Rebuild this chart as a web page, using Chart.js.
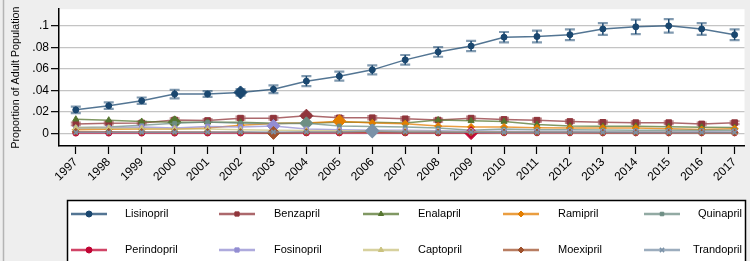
<!DOCTYPE html>
<html>
<head>
<meta charset="utf-8">
<script src="https://cdn.jsdelivr.net/npm/chart.js@4.4.1/dist/chart.umd.min.js"></script>
<style>
  html, body { margin: 0; padding: 0; background: #eeeeee; }
  #wrap { position: relative; width: 750px; height: 261px; }
</style>
</head>
<body>
<div id="wrap"><canvas id="c" width="750" height="261"></canvas></div>
<script>
const years = [1997,1998,1999,2000,2001,2002,2003,2004,2005,2006,2007,2008,2009,2010,2011,2012,2013,2014,2015,2016,2017];
const yTicks = [0, 0.02, 0.04, 0.06, 0.08, 0.1];
const yTickLabels = ['0', '.02', '.04', '.06', '.08', '.1'];

const lisinopril    = [0.0219,0.0258,0.0304,0.0366,0.0366,0.0381,0.0410,0.0486,0.0532,0.0591,0.0684,0.0758,0.0813,0.0895,0.0901,0.0918,0.0971,0.0991,0.1000,0.0971,0.0918];
const lisinoprilErr = [0.0030,0.0030,0.0030,0.0040,0.0027,0.0030,0.0036,0.0047,0.0042,0.0042,0.0045,0.0045,0.0047,0.0048,0.0055,0.0050,0.0054,0.0067,0.0063,0.0054,0.0050];
const benzapril     = [0.0088,0.0095,0.0098,0.0125,0.0120,0.0142,0.0142,0.0165,0.0145,0.0146,0.0136,0.0124,0.0142,0.0130,0.0123,0.0111,0.0103,0.0100,0.0100,0.0088,0.0100];
const benzaprilErr  = [0.0012,0.0012,0.0012,0.0014,0.0014,0.0015,0.0015,0.0016,0.0015,0.0015,0.0015,0.0014,0.0015,0.0014,0.0014,0.0013,0.0013,0.0013,0.0013,0.0012,0.0013];
const enalapril     = [0.0132,0.0123,0.0111,0.0103,0.0103,0.0103,0.0095,0.0095,0.0103,0.0103,0.0097,0.0125,0.0117,0.0110,0.0084,0.0068,0.0066,0.0066,0.0063,0.0058,0.0055];
const ramipril      = [0.0035,0.0038,0.0040,0.0042,0.0050,0.0075,0.0092,0.0096,0.0114,0.0098,0.0090,0.0068,0.0060,0.0060,0.0052,0.0050,0.0050,0.0050,0.0044,0.0036,0.0044];
const quinapril     = [0.0055,0.0060,0.0075,0.0095,0.0105,0.0095,0.0090,0.0094,0.0070,0.0065,0.0060,0.0050,0.0030,0.0040,0.0035,0.0035,0.0032,0.0030,0.0030,0.0030,0.0030];
const perindopril   = [0.0003,0.0003,0.0003,0.0003,0.0004,0.0004,0.0004,0.0005,0.0005,0.0005,0.0005,0.0005,0.0003,0.0006,0.0006,0.0006,0.0006,0.0006,0.0006,0.0006,0.0006];
const fosinopril    = [0.0045,0.0050,0.0060,0.0050,0.0065,0.0060,0.0070,0.0040,0.0035,0.0030,0.0030,0.0025,0.0020,0.0020,0.0018,0.0017,0.0016,0.0015,0.0015,0.0015,0.0014];
const captopril     = [0.0050,0.0048,0.0046,0.0040,0.0040,0.0035,0.0030,0.0026,0.0024,0.0022,0.0020,0.0018,0.0016,0.0015,0.0013,0.0012,0.0011,0.0010,0.0010,0.0009,0.0009];
const moexipril     = [0.0015,0.0015,0.0014,0.0013,0.0013,0.0012,0.0005,0.0011,0.0010,0.0010,0.0009,0.0009,0.0008,0.0008,0.0008,0.0008,0.0007,0.0007,0.0007,0.0007,0.0007];
const trandopril    = [0.0010,0.0010,0.0011,0.0012,0.0012,0.0013,0.0013,0.0014,0.0014,0.0022,0.0014,0.0013,0.0012,0.0011,0.0010,0.0010,0.0010,0.0009,0.0009,0.0009,0.0009];

// name, values, errors, colour, marker, marker radius, highlighted year
const series = [
  ['Lisinopril',  lisinopril,  lisinoprilErr, '#1a476f', 'circle',   3,   2002],
  ['Benzapril',   benzapril,   benzaprilErr,  '#90353b', 'rect',     4,   2004],
  ['Enalapril',   enalapril,   null,          '#55752f', 'triangle', 3.5, 2000],
  ['Ramipril',    ramipril,    null,          '#e37e00', 'rectRot',  3.5, 2005],
  ['Quinapril',   quinapril,   null,          '#6e8e84', 'rect',     2.5, 2004],
  ['Perindopril', perindopril, null,          '#c10534', 'circle',   3,   2009],
  ['Fosinopril',  fosinopril,  null,          '#938dd2', 'rect',     3,   2003],
  ['Captopril',   captopril,   null,          '#cac27e', 'triangle', 3.5, null],
  ['Moexipril',   moexipril,   null,          '#a0522d', 'rectRot',  3.5, 2003],
  ['Trandopril',  trandopril,  null,          '#7b92a8', 'crossRot', 3,   2006]
];

function alpha(hex, a) {
  const n = parseInt(hex.slice(1), 16);
  return `rgba(${n >> 16},${(n >> 8) & 255},${n & 255},${a})`;
}

const datasets = series.map(([name, vals, err, col, mk, r, hl]) => ({
  label: name,
  data: years.map((y, i) => ({ x: y, y: vals[i] })),
  errors: err,
  borderColor: alpha(col, 0.75),
  backgroundColor: col,
  borderWidth: 1.5,
  pointBorderColor: col,
  pointBackgroundColor: col,
  pointBorderWidth: mk === 'crossRot' ? 1.5 : 1,
  pointStyle: ctx => (ctx.raw && ctx.raw.x === hl) ? 'rectRot' : mk,
  pointRadius: ctx => (ctx.raw && ctx.raw.x === hl) ? 6.5 : r,
  tension: 0,
  fill: false,
  order: -series.findIndex(s => s[0] === name)
}));

const plotBg = {
  id: 'plotBg',
  beforeDraw(chart) {
    const { ctx, chartArea: a } = chart;
    ctx.save();
    ctx.fillStyle = '#eeeeee';
    ctx.fillRect(0, 0, chart.width, chart.height);
    ctx.fillStyle = '#ffffff';
    ctx.fillRect(a.left, a.top, a.right - a.left, a.bottom - a.top);
    ctx.strokeStyle = '#b4b4b4';
    ctx.lineWidth = 1.5;
    ctx.beginPath(); ctx.moveTo(3.5, 0); ctx.lineTo(3.5, chart.height); ctx.stroke();
    ctx.restore();
  }
};

const errorBars = {
  id: 'errorBars',
  beforeDatasetsDraw(chart) {
    const { ctx, scales: { x, y } } = chart;
    ctx.save();
    chart.data.datasets.forEach(ds => {
      if (!ds.errors) return;
      ds.data.forEach((p, i) => {
        const px = x.getPixelForValue(p.x);
        const lo = y.getPixelForValue(p.y - ds.errors[i]);
        const hi = y.getPixelForValue(p.y + ds.errors[i]);
        ctx.strokeStyle = ds.pointBorderColor;
        ctx.lineWidth = 1.5;
        ctx.beginPath(); ctx.moveTo(px, lo); ctx.lineTo(px, hi); ctx.stroke();
        ctx.strokeStyle = alpha(ds.pointBorderColor, 0.55);
        ctx.lineWidth = 2.2;
        ctx.beginPath();
        ctx.moveTo(px - 5, lo); ctx.lineTo(px + 5, lo);
        ctx.moveTo(px - 5, hi); ctx.lineTo(px + 5, hi);
        ctx.stroke();
      });
    });
    ctx.restore();
  }
};

// Stata-style legend box below the axis
const legendBox = {
  id: 'legendBox',
  afterDraw(chart) {
    const ctx = chart.ctx;
    const lineX = [71, 219, 363, 503, 644];
    const textX = [125, 274, 418, 558, 742];
    const rowY = [214, 250];
    ctx.save();
    ctx.fillStyle = '#ffffff';
    ctx.fillRect(67, 200, 678, 70);
    ctx.strokeStyle = '#000000';
    ctx.lineWidth = 1.5;
    ctx.strokeRect(67.5, 200.5, 678, 70);
    ctx.font = '11px "Liberation Sans", Arial, sans-serif';
    ctx.textBaseline = 'middle';
    chart.data.datasets.forEach((ds, i) => {
      const col = i % 5, row = Math.floor(i / 5);
      const y = rowY[row];
      const x0 = lineX[col], x1 = x0 + 36;
      ctx.strokeStyle = ds.borderColor;
      ctx.lineWidth = 2.5;
      ctx.beginPath(); ctx.moveTo(x0, y); ctx.lineTo(x1, y); ctx.stroke();
      const mk = series[i][4];
      ctx.fillStyle = ds.pointBackgroundColor;
      ctx.strokeStyle = ds.pointBorderColor;
      ctx.lineWidth = mk === 'crossRot' ? 1.5 : 1;
      Chart.helpers.drawPoint(ctx, { pointStyle: mk, radius: Math.min(series[i][5], 3), rotation: 0, borderWidth: 1 }, (x0 + x1) / 2, y);
      ctx.fillStyle = '#000000';
      ctx.textAlign = col === 4 ? 'right' : 'left';
      ctx.fillText(ds.label, textX[col], y);
    });
    ctx.restore();
  }
};

new Chart(document.getElementById('c'), {
  type: 'line',
  data: { datasets },
  options: {
    responsive: false,
    animation: false,
    devicePixelRatio: 1,
    layout: { padding: 0 },
    plugins: { legend: { display: false }, tooltip: { enabled: false } },
    scales: {
      x: {
        type: 'linear',
        min: 1996.49,
        max: 2017.3,
        afterFit: s => { s.height = 115; },
        afterBuildTicks: s => { s.ticks = years.map(v => ({ value: v })); },
        ticks: {
          autoSkip: false,
          maxRotation: 45,
          minRotation: 45,
          color: '#000000',
          padding: 1,
          font: { family: '"Liberation Sans", Arial, sans-serif', size: 12 },
          callback: v => String(v)
        },
        grid: { drawOnChartArea: false, drawTicks: true, tickLength: 8, tickColor: '#000000', tickWidth: 1.2 },
        border: { display: true, color: '#000000', width: 1.5 }
      },
      y: {
        min: -0.0117,
        max: 0.1155,
        afterFit: s => { s.width = 59; },
        afterBuildTicks: s => { s.ticks = yTicks.map(v => ({ value: v })); },
        ticks: {
          color: '#000000',
          padding: 2,
          font: { family: '"Liberation Sans", Arial, sans-serif', size: 12 },
          callback: v => yTickLabels[yTicks.findIndex(t => Math.abs(t - v) < 1e-9)]
        },
        grid: { color: '#c4c4c4', lineWidth: 1.3, tickLength: 8, tickColor: '#000000', tickWidth: 1.2 },
        border: { display: true, color: '#000000', width: 1.5 },
        title: {
          display: true,
          text: 'Proportion of Adult Population',
          color: '#000000',
          font: { family: '"Liberation Sans", Arial, sans-serif', size: 10.7 },
          padding: { top: 10, bottom: 0 }
        }
      }
    }
  },
  plugins: [plotBg, errorBars, legendBox]
});
</script>
</body>
</html>
